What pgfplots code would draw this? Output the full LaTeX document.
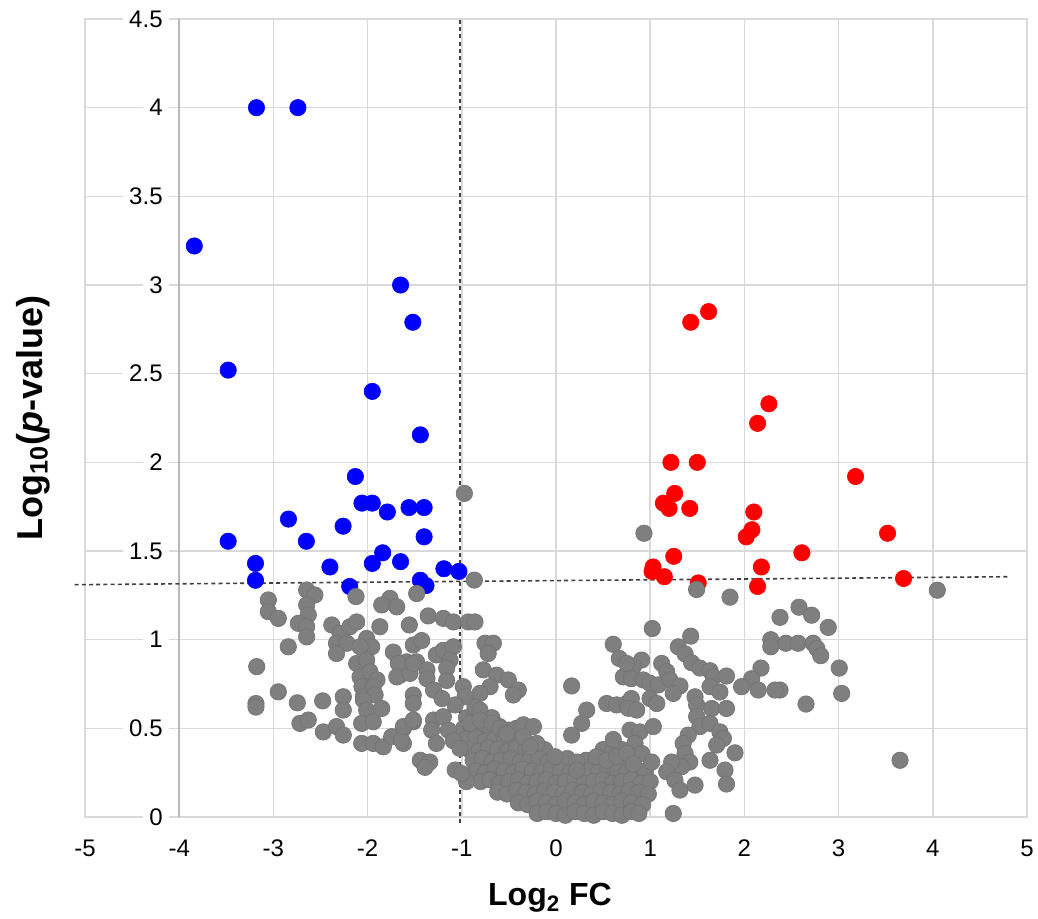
\documentclass[border=0pt]{standalone}
\usepackage{fontspec}
\setmainfont{Liberation Sans}
\usepackage{pgfplots}
\pgfplotsset{compat=1.18}
\definecolor{cUp}{HTML}{FF0000}
\definecolor{cDown}{HTML}{0000FF}
\definecolor{cNS}{HTML}{7F7F7F}
\definecolor{cNSedge}{HTML}{747474}
\definecolor{cGrid}{HTML}{D9D9D9}
\definecolor{cThr}{HTML}{404040}

% significant, down-regulated
\pgfplotstableread{
x y
-3.18 4.00
-2.74 4.00
-3.84 3.22
-1.65 3.00
-1.52 2.79
-3.48 2.52
-1.95 2.40
-1.44 2.155
-2.13 1.92
-2.06 1.77
-1.95 1.77
-1.79 1.72
-1.56 1.745
-1.40 1.745
-2.84 1.68
-2.26 1.64
-1.40 1.58
-3.48 1.555
-2.65 1.555
-1.84 1.49
-3.19 1.43
-1.95 1.43
-1.65 1.44
-2.40 1.41
-1.19 1.40
-1.03 1.385
-3.19 1.335
-2.19 1.30
-1.44 1.335
-1.38 1.305
}\downreg

% significant, up-regulated
\pgfplotstableread{
x y
1.43 2.79
1.62 2.85
2.26 2.33
2.14 2.22
1.22 2.00
1.50 2.00
3.18 1.92
1.26 1.825
1.14 1.77
1.20 1.74
1.42 1.74
2.10 1.72
2.08 1.62
2.02 1.58
3.52 1.60
1.25 1.47
2.61 1.49
1.03 1.41
1.02 1.385
1.15 1.355
2.18 1.41
3.69 1.345
2.14 1.30
1.51 1.32
}\upreg

% not significant (scattered)
\pgfplotstableread{
x y
-0.973 1.825
-0.867 1.336
0.934 1.60
1.493 1.283
1.847 1.24
4.048 1.279
2.58 1.183
2.714 1.138
2.89 1.069
2.378 1.126
2.44 0.98
2.57 0.98
2.73 0.98
2.77 0.95
2.81 0.91
2.28 1.00
2.28 0.96
3.007 0.84
3.033 0.697
2.654 0.637
2.378 0.716
3.652 0.32
1.022 1.063
1.43 1.02
0.608 0.974
0.672 0.894
1.298 0.96
1.37 0.92
1.44 0.87
1.528 0.84
1.635 0.825
1.67 0.79
1.635 0.735
1.74 0.705
2.176 0.84
2.077 0.78
1.97 0.735
2.147 0.716
2.325 0.716
1.81 0.795
0.909 0.885
0.82 0.847
0.715 0.79
0.80 0.78
0.927 0.773
0.998 0.754
1.086 0.745
1.122 0.866
1.175 0.82
1.21 0.773
1.316 0.739
1.245 0.697
0.538 0.64
0.644 0.632
0.75 0.64
0.80 0.668
0.768 0.613
0.857 0.603
0.998 0.668
1.07 0.64
1.476 0.678
1.493 0.632
1.493 0.566
1.528 0.51
1.653 0.612
1.81 0.612
1.635 0.528
1.74 0.48
1.777 0.443
1.706 0.406
1.90 0.362
1.794 0.265
1.81 0.186
1.635 0.32
1.404 0.462
1.35 0.415
1.37 0.358
1.42 0.31
1.335 0.284
0.786 0.49
0.89 0.48
1.033 0.51
0.839 0.415
0.91 0.358
1.016 0.31
1.228 0.31
1.175 0.255
1.263 0.207
1.316 0.152
1.476 0.18
0.608 0.437
1.245 0.02
-1.479 1.26
-1.356 1.134
-1.196 1.12
-1.09 1.10
-0.93 1.10
-0.86 1.10
-1.557 1.083
-0.754 0.98
-0.665 0.98
-0.72 0.922
-1.515 0.97
-1.426 0.995
-1.656 0.80
-1.585 0.875
-1.48 0.875
-1.37 0.83
-1.37 0.78
-1.27 0.914
-1.196 0.94
-1.09 0.96
-1.125 0.885
-1.16 0.84
-1.16 0.77
-0.772 0.83
-0.63 0.80
-0.506 0.773
-0.40 0.716
-0.453 0.688
-0.70 0.735
-0.807 0.697
-0.86 0.62
-0.807 0.603
-0.984 0.735
-0.966 0.678
-1.07 0.632
-1.515 0.688
-1.515 0.64
-1.30 0.716
-1.21 0.668
-1.515 0.537
-1.62 0.50
-1.62 0.415
-1.30 0.547
-1.196 0.566
-1.32 0.49
-1.27 0.415
-1.143 0.49
-1.44 0.32
-1.34 0.31
-1.39 0.28
-1.07 0.265
-0.95 0.20
-1.00 0.245
-1.09 0.43
-1.02 0.387
-0.913 0.528
-0.807 0.547
-0.68 0.528
-0.594 0.50
-0.524 0.471
-0.347 0.52
-0.24 0.51
-0.347 0.453
-0.205 0.415
-0.276 0.396
-0.01 0.34
0.22 0.31
0.22 0.265
0.166 0.739
0.75 0.866
0.326 0.603
0.273 0.528
0.166 0.462
0.43 0.34
0.538 0.32
0.644 0.34
0.75 0.36
0.82 0.30
-2.647 1.28
-2.56 1.252
-2.647 1.196
-2.63 1.14
-2.735 1.092
-2.647 1.073
-2.647 1.016
-3.054 1.224
-3.054 1.158
-2.948 1.12
-2.123 1.243
-1.762 1.233
-1.85 1.196
-1.69 1.185
-2.38 1.083
-2.293 1.035
-2.187 1.073
-2.116 1.10
-2.33 0.98
-2.22 0.98
-2.33 0.922
-2.842 0.96
-3.177 0.848
-2.01 1.007
-1.87 1.073
-1.957 0.96
-2.08 0.96
-2.116 0.866
-2.01 0.885
-2.08 0.79
-1.975 0.82
-1.90 0.773
-2.06 0.735
-1.94 0.735
-2.045 0.678
-1.92 0.688
-1.727 0.93
-1.674 0.866
-1.69 0.79
-1.55 0.81
-1.515 0.866
-3.185 0.64
-3.185 0.62
-2.948 0.706
-2.746 0.644
-2.477 0.655
-2.258 0.678
-2.258 0.603
-2.718 0.528
-2.63 0.547
-2.47 0.48
-2.33 0.51
-2.258 0.462
-2.045 0.66
-2.01 0.603
-2.063 0.528
-1.94 0.537
-1.85 0.612
-2.063 0.415
-1.94 0.415
-1.833 0.396
-1.744 0.453
-1.64 0.434
-1.62 0.51
-1.515 0.547
}\nsscatter

% not significant (dense core near the origin)
\pgfplotstableread{
x y
-0.95 0.56
-0.86 0.57
-0.77 0.55
-0.68 0.56
-0.98 0.50
-0.90 0.51
-0.80 0.49
-0.70 0.50
-0.60 0.51
-0.50 0.49
-0.42 0.50
-0.95 0.44
-0.85 0.45
-0.75 0.43
-0.65 0.44
-0.55 0.45
-0.45 0.43
-0.35 0.44
-0.92 0.38
-0.82 0.37
-0.72 0.39
-0.62 0.38
-0.52 0.37
-0.42 0.39
-0.32 0.38
-0.22 0.37
-0.12 0.38
0.50 0.38
0.60 0.37
0.70 0.38
-0.88 0.32
-0.78 0.33
-0.68 0.31
-0.58 0.32
-0.48 0.33
-0.38 0.31
-0.28 0.32
-0.18 0.33
-0.08 0.31
0.02 0.32
0.12 0.33
0.32 0.32
0.42 0.31
0.52 0.32
0.62 0.33
0.72 0.31
0.82 0.32
-0.85 0.26
-0.75 0.25
-0.65 0.27
-0.55 0.26
-0.45 0.25
-0.35 0.27
-0.25 0.26
-0.15 0.25
-0.05 0.27
0.05 0.26
0.15 0.25
0.25 0.27
0.35 0.26
0.45 0.25
0.55 0.27
0.65 0.26
0.75 0.25
0.85 0.27
0.95 0.26
-0.80 0.20
-0.70 0.21
-0.60 0.19
-0.50 0.20
-0.40 0.21
-0.30 0.19
-0.20 0.20
-0.10 0.21
0.00 0.19
0.10 0.20
0.20 0.21
0.30 0.19
0.40 0.20
0.50 0.21
0.60 0.19
0.70 0.20
0.80 0.21
0.90 0.19
1.00 0.20
-0.62 0.14
-0.52 0.13
-0.42 0.15
-0.32 0.14
-0.22 0.13
-0.12 0.15
-0.02 0.14
0.08 0.13
0.18 0.15
0.28 0.14
0.38 0.13
0.48 0.15
0.58 0.14
0.68 0.13
0.78 0.15
0.88 0.14
0.98 0.13
-0.40 0.08
-0.30 0.07
-0.20 0.09
-0.10 0.08
0.00 0.07
0.10 0.09
0.20 0.08
0.30 0.07
0.40 0.09
0.50 0.08
0.60 0.07
0.70 0.09
0.80 0.08
0.92 0.07
-0.20 0.02
-0.10 0.03
0.00 0.02
0.10 0.01
0.20 0.03
0.30 0.02
0.40 0.01
0.50 0.03
0.60 0.02
0.70 0.01
0.80 0.03
0.88 0.02
}\nscore

\begin{document}
\begin{tikzpicture}
\begin{axis}[
  at={(0,0)}, anchor=south west,
  scale only axis,
  width=471pt, height=399pt,
  xmin=-5, xmax=5, ymin=0, ymax=4.5,
  clip=false,
  xtick={-5,-4,-3,-2,-1,0,1,2,3,4,5},
  xticklabels={-5,-4,-3,-2,-1,0,1,2,3,4,5},
  ytick={0,0.5,1,1.5,2,2.5,3,3.5,4,4.5},
  yticklabels={0,0.5,1,1.5,2,2.5,3,3.5,4,4.5},
  grid=major,
  grid style={cGrid, line width=0.8pt},
  axis line style={cGrid, line width=0.9pt},
  major tick length=0pt,
  tick style={draw=none},
  tick label style={font=\fontsize{12}{14}\selectfont},
  xticklabel style={yshift=-8pt},
  yticklabel style={anchor=east, xshift=42pt, fill=white, inner xsep=3pt, inner ysep=1pt},
  xlabel={\textbf{Log\textsubscript{2} FC}},
  ylabel={\textbf{Log\textsubscript{10}(\textit{p}-value)}},
  every axis x label/.style={at={(axis description cs:0.4936,-0.1115)}, anchor=base,
    font=\fontsize{16}{18}\selectfont},
  every axis y label/.style={at={(axis description cs:-0.0456,0.5)}, anchor=base, rotate=90,
    font=\fontsize{18}{20}\selectfont},
]

% y axis line sits at x = -4
\draw[black!28, line width=1pt] (axis cs:-4,0) -- (axis cs:-4,4.5);

\addplot[only marks, mark=*, mark size=4.1pt,
  mark options={fill=cDown, draw=cDown, line width=0.3pt}] table {\downreg};
\addplot[only marks, mark=*, mark size=4.1pt,
  mark options={fill=cUp, draw=cUp, line width=0.3pt}] table {\upreg};
\addplot[only marks, mark=*, mark size=4.1pt,
  mark options={fill=cNS, draw=cNSedge, line width=0.35pt}] table {\nscore};
\addplot[only marks, mark=*, mark size=4.1pt,
  mark options={fill=cNS, draw=cNSedge, line width=0.35pt}] table {\nsscatter};

% thresholds
\draw[cThr, line width=0.8pt, dash pattern=on 2pt off 1.6pt]
  (axis cs:-1.02,-0.035) -- (axis cs:-1.02,4.5);
\draw[cThr, line width=0.8pt, dash pattern=on 2pt off 1.6pt]
  (axis cs:-5.11,1.31) -- (axis cs:4.80,1.355);

\end{axis}
\pgfresetboundingbox
\path (-42.5pt,-50.5pt) rectangle (476.5pt,408.5pt);
\end{tikzpicture}
\end{document}
